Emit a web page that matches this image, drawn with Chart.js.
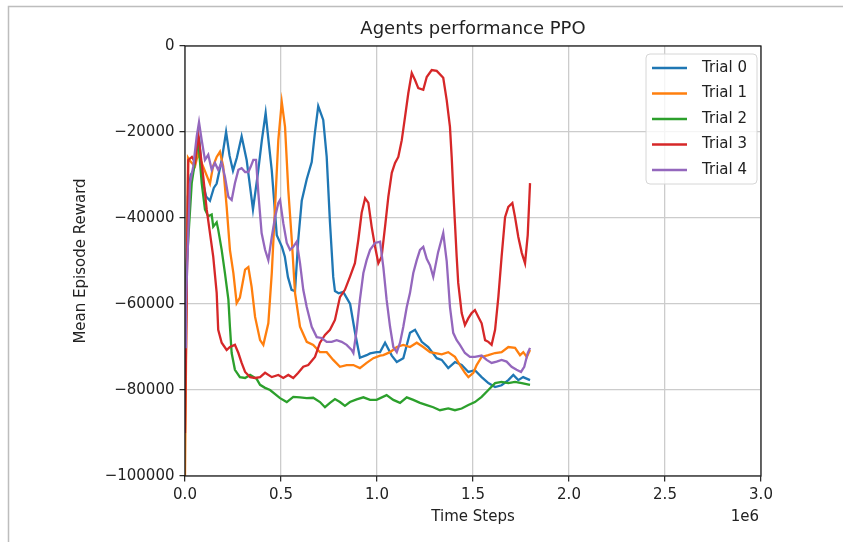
<!DOCTYPE html>
<html>
<head>
<meta charset="utf-8">
<script src="https://cdn.jsdelivr.net/npm/chart.js@4/dist/chart.umd.min.js"></script>
<style>
    body { margin: 0; background: #fff; }
    canvas { display: block; }
</style>
</head>
<body>
<canvas id="myChart" width="843" height="542"></canvas>
<script>
// time steps are in millions (axis shows the 1e6 offset)
var chartTitle = "Agents performance PPO";
var trialNames = ["Trial 0", "Trial 1", "Trial 2", "Trial 3", "Trial 4"];
var trialColors = ["#1f77b4", "#ff7f0e", "#2ca02c", "#d62728", "#9467bd"];
var xTicks = [0, 0.5, 1.0, 1.5, 2.0, 2.5, 3.0];
var yTicks = [0, -20000, -40000, -60000, -80000, -100000];

var trial0Steps = [0, 0.015, 0.03, 0.043, 0.06, 0.075, 0.09, 0.11, 0.13, 0.15, 0.165, 0.191, 0.214, 0.232, 0.25, 0.27, 0.295, 0.321, 0.354, 0.38, 0.4, 0.42, 0.435, 0.452, 0.478, 0.505, 0.52, 0.536, 0.555, 0.573, 0.59, 0.608, 0.634, 0.66, 0.677, 0.694, 0.72, 0.738, 0.755, 0.772, 0.781, 0.8, 0.824, 0.86, 0.885, 0.911, 0.946, 0.964, 0.998, 1.016, 1.042, 1.077, 1.103, 1.137, 1.172, 1.198, 1.233, 1.267, 1.311, 1.337, 1.371, 1.406, 1.441, 1.476, 1.51, 1.545, 1.58, 1.615, 1.649, 1.684, 1.71, 1.736, 1.761, 1.797];
var trial0Reward = [-80000, -35000, -30000, -29000, -24000, -22000, -31000, -35000, -36000, -33000, -32000, -26500, -20000, -25500, -29000, -26000, -21000, -26500, -38000, -29500, -22000, -15600, -22000, -29000, -44000, -46700, -49000, -53700, -56700, -57000, -45000, -36000, -31000, -27000, -20000, -14000, -17200, -25800, -41000, -53700, -57000, -57500, -57200, -60000, -66500, -72500, -71900, -71500, -71200, -71200, -69000, -72000, -73500, -72600, -66700, -66000, -68800, -70000, -72600, -73000, -74900, -73500, -74200, -75800, -75400, -77000, -78400, -79300, -78900, -77700, -76500, -77700, -77000, -77700];

var trial1Steps = [0, 0.008, 0.016, 0.031, 0.052, 0.068, 0.094, 0.13, 0.146, 0.165, 0.182, 0.199, 0.217, 0.234, 0.252, 0.269, 0.286, 0.313, 0.33, 0.347, 0.365, 0.391, 0.408, 0.434, 0.452, 0.469, 0.486, 0.504, 0.521, 0.538, 0.556, 0.573, 0.599, 0.634, 0.668, 0.703, 0.738, 0.772, 0.807, 0.842, 0.877, 0.911, 0.946, 0.981, 1.016, 1.033, 1.068, 1.103, 1.137, 1.172, 1.207, 1.241, 1.276, 1.311, 1.337, 1.371, 1.406, 1.432, 1.458, 1.476, 1.502, 1.519, 1.545, 1.58, 1.615, 1.649, 1.684, 1.719, 1.745, 1.762, 1.78, 1.797];
var trial1Reward = [-100000, -60000, -26000, -27000, -28000, -25000, -28000, -32000, -28000, -25800, -24600, -28000, -37400, -47400, -52800, -59800, -58500, -52000, -51400, -56000, -63000, -68400, -69500, -64500, -52800, -37400, -21900, -13000, -18800, -33500, -45000, -57400, -65300, -68800, -69500, -71200, -71200, -73000, -74600, -74200, -74200, -74900, -73700, -72600, -72000, -71900, -71200, -70000, -69500, -70000, -69000, -70000, -71200, -71500, -71700, -71200, -72300, -74200, -76000, -77000, -76000, -74200, -72300, -71900, -71400, -71200, -70000, -70200, -71900, -71200, -72300, -70700];

var trial2Steps = [0, 0.01, 0.035, 0.069, 0.087, 0.104, 0.121, 0.139, 0.147, 0.165, 0.173, 0.191, 0.208, 0.226, 0.234, 0.243, 0.26, 0.286, 0.313, 0.339, 0.373, 0.391, 0.417, 0.443, 0.495, 0.53, 0.564, 0.599, 0.634, 0.668, 0.703, 0.729, 0.755, 0.781, 0.807, 0.833, 0.859, 0.894, 0.929, 0.964, 0.998, 1.05, 1.085, 1.12, 1.155, 1.189, 1.224, 1.259, 1.293, 1.328, 1.371, 1.406, 1.441, 1.476, 1.51, 1.545, 1.58, 1.615, 1.649, 1.684, 1.719, 1.754, 1.797];
var trial2Reward = [-60000, -50000, -31900, -21900, -31900, -38000, -39600, -39200, -42000, -41000, -42700, -47400, -52800, -59000, -65300, -71400, -75300, -77000, -77200, -76500, -77400, -78800, -79500, -80000, -81900, -82800, -81600, -81700, -81900, -81800, -82800, -84000, -83000, -82100, -82800, -83700, -82800, -82200, -81700, -82300, -82300, -81200, -82300, -83000, -81700, -82300, -83000, -83500, -84000, -84700, -84300, -84700, -84300, -83500, -82800, -81600, -80000, -78400, -78100, -78400, -78100, -78400, -78800];

var trial3Steps = [0, 0.008, 0.017, 0.036, 0.052, 0.069, 0.095, 0.113, 0.13, 0.147, 0.165, 0.173, 0.191, 0.217, 0.234, 0.26, 0.278, 0.295, 0.313, 0.339, 0.365, 0.391, 0.417, 0.452, 0.486, 0.512, 0.538, 0.564, 0.59, 0.616, 0.642, 0.677, 0.703, 0.729, 0.755, 0.781, 0.807, 0.833, 0.859, 0.885, 0.903, 0.92, 0.938, 0.955, 0.972, 0.99, 1.007, 1.024, 1.042, 1.059, 1.077, 1.094, 1.111, 1.129, 1.146, 1.163, 1.181, 1.198, 1.215, 1.241, 1.259, 1.285, 1.311, 1.345, 1.363, 1.38, 1.389, 1.397, 1.406, 1.415, 1.423, 1.441, 1.458, 1.476, 1.493, 1.51, 1.528, 1.545, 1.563, 1.58, 1.597, 1.615, 1.632, 1.649, 1.667, 1.684, 1.705, 1.719, 1.736, 1.754, 1.771, 1.785, 1.797];
var trial3Reward = [-90000, -60000, -26500, -25800, -27000, -20500, -30400, -38000, -43500, -49000, -57400, -66000, -69000, -70700, -70000, -69500, -71400, -73700, -75800, -77000, -77200, -77000, -76000, -77000, -76500, -77200, -76500, -77200, -76000, -74600, -74200, -72300, -69000, -67200, -66000, -63700, -58400, -56700, -53700, -50500, -45000, -38800, -35400, -36500, -42000, -46700, -50500, -49000, -42000, -35100, -29500, -27200, -25800, -21900, -16500, -11000, -6300, -7900, -9800, -10200, -7200, -5600, -5800, -7400, -12600, -18800, -25800, -33500, -41200, -49000, -55100, -62100, -64900, -63300, -62100, -61400, -63000, -64500, -68400, -68800, -69500, -66000, -58400, -49000, -39800, -37400, -36500, -39800, -44400, -48100, -50500, -44000, -31900];

var trial4Steps = [0, 0.005, 0.026, 0.043, 0.061, 0.073, 0.087, 0.104, 0.121, 0.139, 0.156, 0.173, 0.191, 0.208, 0.226, 0.243, 0.26, 0.278, 0.295, 0.313, 0.33, 0.342, 0.356, 0.37, 0.382, 0.399, 0.417, 0.434, 0.452, 0.469, 0.486, 0.495, 0.512, 0.53, 0.547, 0.564, 0.582, 0.599, 0.616, 0.634, 0.66, 0.686, 0.712, 0.738, 0.764, 0.79, 0.816, 0.842, 0.868, 0.877, 0.894, 0.911, 0.929, 0.946, 0.964, 0.99, 1.016, 1.033, 1.05, 1.068, 1.085, 1.103, 1.12, 1.137, 1.155, 1.172, 1.189, 1.207, 1.224, 1.241, 1.259, 1.276, 1.293, 1.318, 1.345, 1.363, 1.38, 1.397, 1.415, 1.432, 1.458, 1.484, 1.51, 1.545, 1.571, 1.597, 1.623, 1.649, 1.675, 1.701, 1.727, 1.75, 1.767, 1.785, 1.797];
var trial4Reward = [-70000, -60000, -32000, -28000, -21000, -17700, -21900, -26500, -25300, -28800, -27200, -28800, -27200, -30400, -35100, -35800, -31900, -28800, -28400, -29300, -29300, -28100, -26500, -26500, -34200, -43500, -47400, -49800, -44400, -39800, -36500, -35800, -41200, -45800, -47400, -46700, -45500, -50500, -56700, -60700, -65300, -67700, -67900, -68800, -68800, -68400, -68800, -69500, -70700, -71400, -66000, -59000, -52800, -49800, -47400, -45800, -45500, -51400, -59000, -65300, -70000, -71200, -69000, -65300, -60700, -57400, -52800, -49800, -47400, -46700, -49500, -51000, -53700, -48000, -43500, -50000, -60700, -66700, -68400, -69500, -71400, -72300, -72300, -72000, -73000, -73700, -73400, -73000, -73400, -74600, -75300, -75800, -74600, -71400, -70200];

var allSteps = [trial0Steps, trial1Steps, trial2Steps, trial3Steps, trial4Steps];
var allRewards = [trial0Reward, trial1Reward, trial2Reward, trial3Reward, trial4Reward];

Chart.defaults.font.family = "'DejaVu Sans', sans-serif";
Chart.defaults.color = "#222";

function makeDatasets() {
    var sets = [];
    for (var i = 0; i < trialNames.length; i++) {
        var pts = [];
        for (var j = 0; j < allSteps[i].length; j++) {
            pts.push({x: allSteps[i][j], y: allRewards[i][j]});
        }
        sets.push({
            label: trialNames[i],
            data: pts,
            borderColor: trialColors[i],
            backgroundColor: trialColors[i],
            borderWidth: 2.3,
            pointRadius: 0,
            tension: 0,
            fill: false,
            order: trialNames.length - 1 - i
        });
    }
    return sets;
}

// grey frame of the notebook output cell
var framePlugin = {
    id: 'frame',
    beforeDraw: function (chart) {
        var ctx = chart.ctx;
        ctx.save();
        ctx.fillStyle = '#fff';
        ctx.fillRect(0, 0, chart.width, chart.height);
        ctx.strokeStyle = '#bdbdbd';
        ctx.lineWidth = 1.5;
        ctx.beginPath();
        ctx.moveTo(8.5, chart.height);
        ctx.lineTo(8.5, 6.5);
        ctx.lineTo(chart.width, 6.5);
        ctx.stroke();
        ctx.restore();
    }
};

// axes box, title, legend and the 1e6 offset label
var boxPlugin = {
    id: 'box',
    afterDatasetsDraw: function (chart) {
        var a = chart.chartArea;
        var ctx = chart.ctx;
        ctx.save();
        ctx.strokeStyle = '#111';
        ctx.lineWidth = 1.2;
        ctx.strokeRect(a.left, a.top, a.right - a.left, a.bottom - a.top);
        ctx.restore();
    },
    afterDraw: function (chart) {
        var a = chart.chartArea;
        var ctx = chart.ctx;
        ctx.save();
        ctx.fillStyle = '#222';
        ctx.font = "18px 'DejaVu Sans'";
        ctx.textAlign = 'center';
        ctx.textBaseline = 'middle';
        ctx.fillText(chartTitle, (a.left + a.right) / 2, 29);
        // legend box
        var bx = 646, by = 54, bw = 111, bh = 130, r = 4;
        ctx.beginPath();
        ctx.moveTo(bx + r, by);
        ctx.arcTo(bx + bw, by, bx + bw, by + bh, r);
        ctx.arcTo(bx + bw, by + bh, bx, by + bh, r);
        ctx.arcTo(bx, by + bh, bx, by, r);
        ctx.arcTo(bx, by, bx + bw, by, r);
        ctx.closePath();
        ctx.fillStyle = 'rgba(255,255,255,0.8)';
        ctx.fill();
        ctx.strokeStyle = '#d6d6d6';
        ctx.lineWidth = 1;
        ctx.stroke();
        ctx.font = "15px 'DejaVu Sans'";
        ctx.textAlign = 'left';
        chart.data.datasets.forEach(function (ds, i) {
            var y = 68 + i * 25.5;
            ctx.strokeStyle = ds.borderColor;
            ctx.lineWidth = 2.3;
            ctx.beginPath();
            ctx.moveTo(652, y);
            ctx.lineTo(687, y);
            ctx.stroke();
            ctx.fillStyle = '#222';
            ctx.fillText(ds.label, 702, y);
        });
        // offset text
        ctx.textAlign = 'right';
        ctx.fillText('1e6', a.right - 2, 517);
        ctx.restore();
    }
};

var mychart = new Chart(document.getElementById('myChart'), {
    type: 'line',
    data: {
        datasets: makeDatasets()
    },
    options: {
        responsive: false,
        animation: false,
        events: [],
        layout: {
            padding: {left: 0, top: 46, right: 82, bottom: 0}
        },
        plugins: {
            legend: {display: false},
            tooltip: {enabled: false},
            title: {display: false}
        },
        scales: {
            x: {
                type: 'linear',
                min: 0,
                max: 3,
                afterFit: function (scale) {
                    scale.height = 66;
                },
                afterBuildTicks: function (scale) {
                    scale.ticks = xTicks.map(function (v) { return {value: v}; });
                },
                ticks: {
                    font: {size: 15},
                    padding: 5,
                    maxRotation: 0,
                    callback: function (v) { return v.toFixed(1); }
                },
                grid: {
                    color: '#cccccc',
                    lineWidth: 1.3,
                    tickColor: '#222',
                    tickLength: 5.5,
                    tickWidth: 1.2
                },
                border: {display: false},
                title: {
                    display: true,
                    text: 'Time Steps',
                    font: {size: 15},
                    padding: {top: 0, bottom: 16}
                }
            },
            y: {
                type: 'linear',
                min: -100000,
                max: 0,
                afterFit: function (scale) {
                    scale.width = 185;
                },
                afterBuildTicks: function (scale) {
                    scale.ticks = yTicks.map(function (v) { return {value: v}; });
                },
                ticks: {
                    font: {size: 15},
                    padding: 5,
                    callback: function (v) {
                        return v < 0 ? '\u2212' + Math.abs(v) : String(v);
                    }
                },
                grid: {
                    color: '#cccccc',
                    lineWidth: 1.3,
                    tickColor: '#222',
                    tickLength: 5.5,
                    tickWidth: 1.2
                },
                border: {display: false},
                title: {
                    display: true,
                    text: 'Mean Episode Reward',
                    font: {size: 15},
                    padding: {top: 72, bottom: 0}
                }
            }
        }
    },
    plugins: [framePlugin, boxPlugin]
});
</script>
</body>
</html>
